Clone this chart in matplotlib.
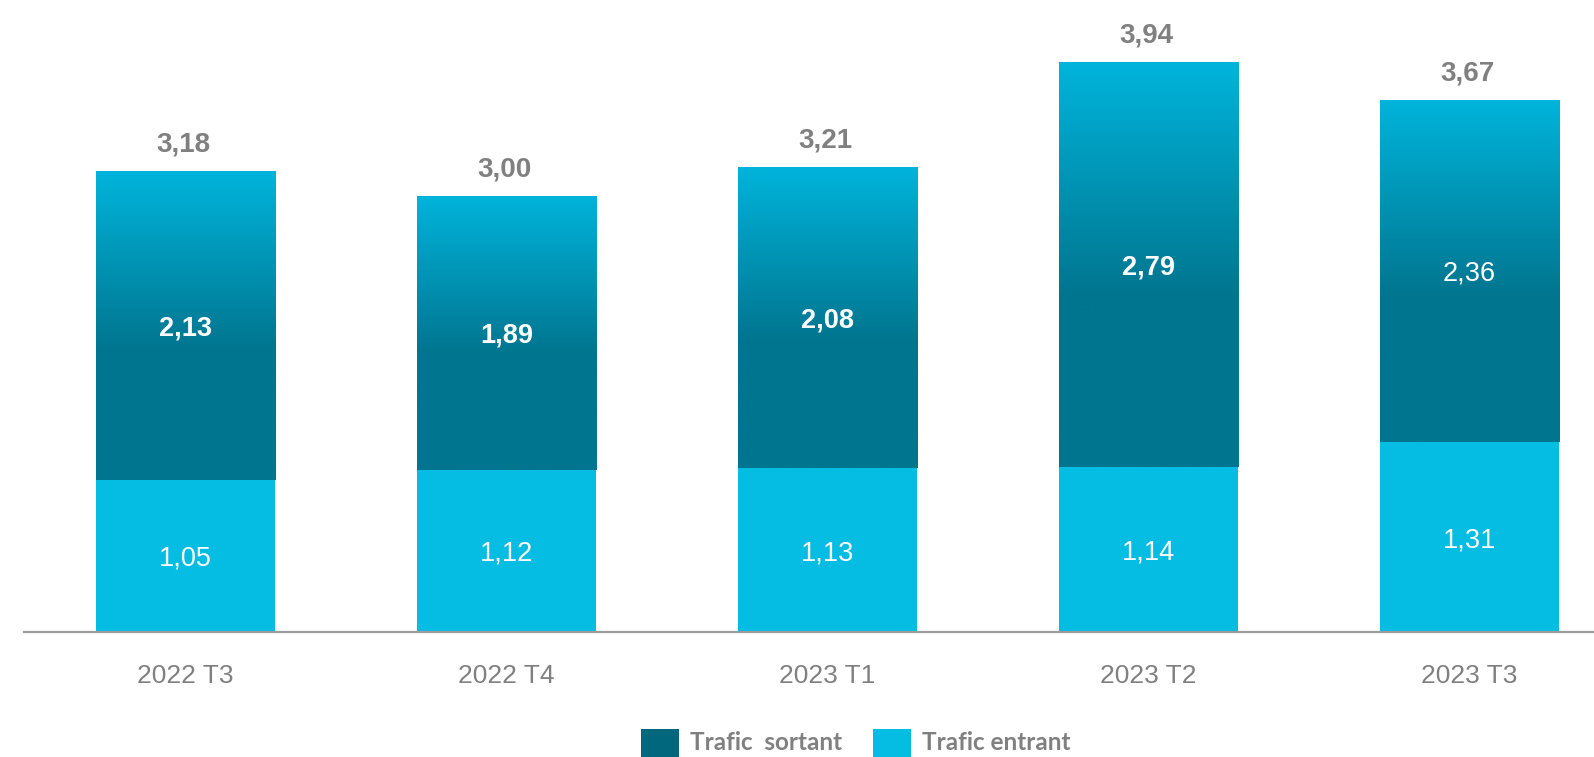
import matplotlib
matplotlib.use("Agg")
import matplotlib.pyplot as plt
import numpy as np
from matplotlib.colors import LinearSegmentedColormap
from matplotlib.patches import Rectangle

categories = ["2022 T3", "2022 T4", "2023 T1", "2023 T2", "2023 T3"]
entrant = [1.05, 1.12, 1.13, 1.14, 1.31]
sortant = [2.13, 1.89, 2.08, 2.79, 2.36]
totals = [3.18, 3.00, 3.21, 3.94, 3.67]
sortant_bold = [True, True, True, True, False]

C_ENTRANT = "#05BCE3"
C_DARK = "#00758F"
C_TOP = "#00B4DB"
C_LEGEND_DARK = "#00677D"
GRAY = "#808080"

def fmt(v):
    return f"{v:.2f}".replace(".", ",")

plt.rcParams["font.family"] = ["Liberation Sans", "DejaVu Sans"]

W, H = 1594, 757
fig = plt.figure(figsize=(W / 100, H / 100), dpi=100)
ax = fig.add_axes([24 / W, 125 / H, 1 - 24 / W, 622 / H])

x = np.arange(len(categories))
bw = 0.558
b1 = ax.bar(x, entrant, width=bw, color=C_ENTRANT, zorder=2)
b2 = ax.bar(x, sortant, width=bw, bottom=entrant, color="none", zorder=2)

cmap = LinearSegmentedColormap.from_list("g", [(0, C_DARK), (0.42, C_DARK), (1, C_TOP)])
grad = np.linspace(0, 1, 256).reshape(-1, 1)
for rect in b2:
    x0, y0, w, h = rect.get_x(), rect.get_y(), rect.get_width(), rect.get_height()
    im = ax.imshow(grad, extent=[x0, x0 + w, y0, y0 + h], aspect="auto",
                   cmap=cmap, origin="lower", zorder=2, interpolation="bilinear")
    im.set_clip_path(rect)

ax.set_xlim(-0.503, 4.388)
ax.set_ylim(0, 4.29)

for i in range(len(categories)):
    ax.annotate(fmt(totals[i]), (x[i], entrant[i] + sortant[i]), xytext=(-1.5, 14),
                textcoords="offset points", ha="center", va="baseline",
                fontsize=20, fontweight="bold", color=GRAY, zorder=4)
    ax.annotate(fmt(sortant[i]), (x[i], entrant[i] + sortant[i] / 2), xytext=(0, -7.2),
                textcoords="offset points", ha="center", va="baseline",
                fontsize=19.5, fontweight="bold" if sortant_bold[i] else "normal",
                color="white", zorder=4)
    ax.annotate(fmt(entrant[i]), (x[i], entrant[i] / 2), xytext=(0, -7.2),
                textcoords="offset points", ha="center", va="baseline",
                fontsize=19.5, color="white", zorder=4)

for s in ["top", "left", "right"]:
    ax.spines[s].set_visible(False)
ax.spines["bottom"].set_color("#9C9C9C")
ax.spines["bottom"].set_linewidth(1.6)
ax.spines["bottom"].set_zorder(3)
ax.set_yticks([])
ax.set_xticks(x)
ax.set_xticklabels(categories, fontsize=19, color=GRAY)
ax.tick_params(axis="x", length=0, pad=23)

# legend
leg = [("Trafic  sortant", C_LEGEND_DARK, 641), ("Trafic entrant", C_ENTRANT, 873)]
for label, col, px in leg:
    fig.patches.append(Rectangle((px / W, 0), 38 / W, 28 / H, transform=fig.transFigure,
                                 facecolor=col, edgecolor="none"))
    fig.text((px + 49) / W, 1 - 743 / H, label, ha="left", va="center",
             fontsize=17.5, fontweight="bold", color=GRAY, family=["Lato", "DejaVu Sans"])

fig.savefig("out.png", dpi=100)
